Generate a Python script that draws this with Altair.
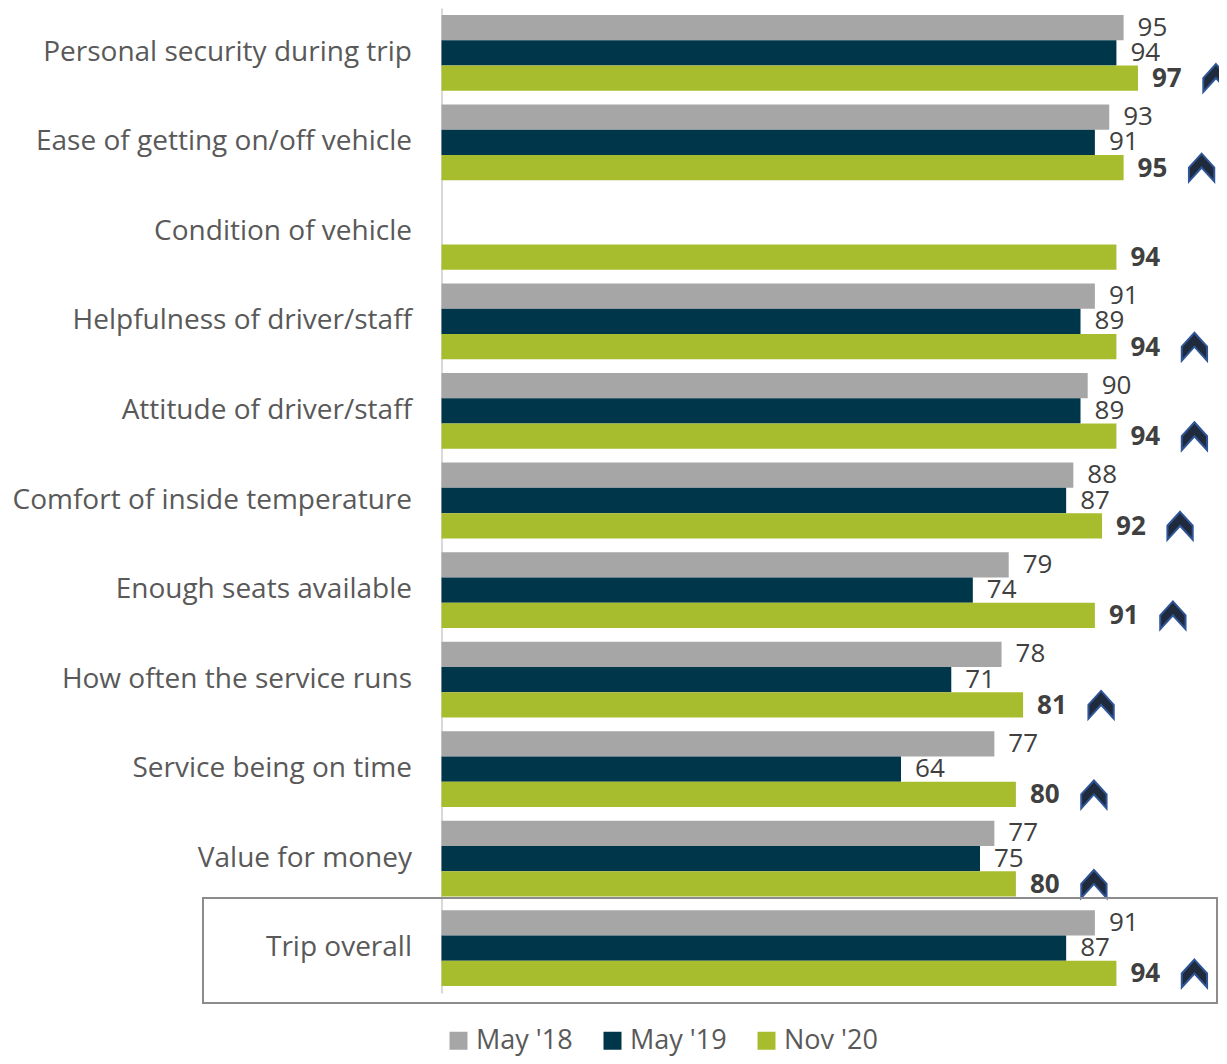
import altair as alt
import pandas as pd

categories = [
    "Personal security during trip",
    "Ease of getting on/off vehicle",
    "Condition of vehicle",
    "Helpfulness of driver/staff",
    "Attitude of driver/staff",
    "Comfort of inside temperature",
    "Enough seats available",
    "How often the service runs",
    "Service being on time",
    "Value for money",
    "Trip overall",
]
series = ["May '18", "May '19", "Nov '20"]
may18 = [95, 93, None, 91, 90, 88, 79, 78, 77, 77, 91]
may19 = [94, 91, None, 89, 89, 87, 74, 71, 64, 75, 87]
nov20 = [97, 95, 94, 94, 94, 92, 91, 81, 80, 80, 94]
improved = [True, True, False, True, True, True, True, True, True, True, True]

colors = ["#a6a6a6", "#00364a", "#a8bd2e"]
FONT = "Open Sans"

rows = []
for i, c in enumerate(categories):
    for s, vals in zip(series, [may18, may19, nov20]):
        v = vals[i]
        if v is None:
            continue
        rows.append({"category": c, "series": s, "value": v,
                     "improved": bool(improved[i]) and s == "Nov '20"})
df = pd.DataFrame(rows)

H = 985
W = 718
PAD_LEFT = 433.5

y_enc = alt.Y(
    "category:N",
    sort=categories,
    scale=alt.Scale(paddingInner=0.154, paddingOuter=0.077),
    axis=alt.Axis(
        title=None, labelFont=FONT, labelFontSize=28, labelColor="#595959",
        labelPadding=30, ticks=False, domainColor="#d9d9d9", domainWidth=2,
        labelLimit=600,
    ),
)
yoff = alt.YOffset("series:N", sort=series,
                   scale=alt.Scale(domain=series, paddingInner=0, paddingOuter=0))
x_enc = alt.X("value:Q", scale=alt.Scale(domain=[0, 100]), axis=None)

base = alt.Chart(df)

bars = base.mark_bar().encode(
    x=x_enc,
    y=y_enc,
    yOffset=yoff,
    color=alt.Color(
        "series:N",
        scale=alt.Scale(domain=series, range=colors),
        legend=alt.Legend(
            title=None, orient="none", legendX=3.5, legendY=1019,
            direction="horizontal", symbolType="square", symbolSize=324,
            symbolStrokeWidth=0, labelFont=FONT, labelFontSize=27,
            labelColor="#595959", labelOffset=4, columnPadding=26,
            padding=0,
        ),
    ),
)

labels_plain = base.transform_filter(alt.datum.series != "Nov '20").mark_text(
    align="left", baseline="middle", dx=14, font=FONT, fontSize=26, color="#404040"
).encode(x=x_enc, y=y_enc, yOffset=yoff, text="value:Q")

labels_bold = base.transform_filter(alt.datum.series == "Nov '20").mark_text(
    align="left", baseline="middle", dx=14, dy=1, font=FONT, fontSize=26,
    fontWeight="bold", color="#404040"
).encode(x=x_enc, y=y_enc, yOffset=yoff, text="value:Q")

chevron_path = "M0,-1.1 L1,0 L1,1.1 L0,0 L-1,1.1 L-1,0 Z"
chevrons = base.transform_filter(alt.datum.improved).mark_point(
    shape=chevron_path, size=640, filled=True, fill="#1f2a3d", stroke="#2f5597",
    strokeWidth=2, opacity=1, xOffset=78, yOffset=2,
).encode(x=x_enc, y=y_enc, yOffset=yoff)

box = alt.Chart(alt.Data(values=[{"k": 1}])).mark_rect(
    fill="transparent", stroke="#8c8c8c", strokeWidth=2
).encode(
    x=alt.value(-238.5), x2=alt.value(775.5),
    y=alt.value(890), y2=alt.value(995),
)

chart = alt.layer(bars, labels_plain, labels_bold, chevrons, box).properties(
    width=W, height=H,
    autosize=alt.AutoSizeParams(type="none"),
    padding={"left": PAD_LEFT, "top": 0, "right": 1211 - PAD_LEFT - W, "bottom": 1048 - H},
).configure_view(stroke=None)

chart.save("out.html", embed_options={"renderer": "svg", "actions": False})
